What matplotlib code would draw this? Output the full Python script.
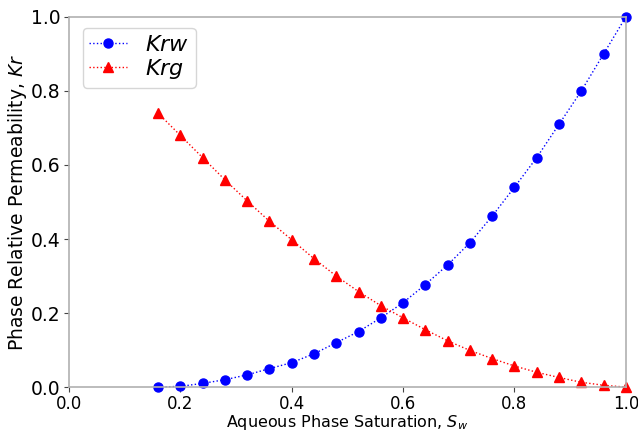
import numpy as np
import matplotlib
matplotlib.use('Agg')
import matplotlib.pyplot as plt

# saturation points
sw = [0.16, 0.20, 0.24, 0.28, 0.32, 0.36, 0.40, 0.44, 0.48, 0.52, 0.56,
      0.60, 0.64, 0.68, 0.72, 0.76, 0.80, 0.84, 0.88, 0.92, 0.96, 1.00]

krw = [0.0, 0.002, 0.01, 0.02, 0.033, 0.05, 0.066, 0.09, 0.12, 0.15, 0.187,
       0.228, 0.277, 0.33, 0.39, 0.462, 0.54, 0.62, 0.71, 0.80, 0.90, 1.0]

krg = [0.74, 0.68, 0.62, 0.56, 0.503, 0.448, 0.398, 0.347, 0.30, 0.258, 0.22,
       0.187, 0.155, 0.125, 0.099, 0.077, 0.057, 0.04, 0.026, 0.013, 0.005, 0.0]

fig, ax = plt.subplots(figsize=(6.38, 4.33), dpi=100)
fig.subplots_adjust(left=0.108, right=0.981, top=0.961, bottom=0.106)

ax.plot(sw, krw, 'b:', lw=1, marker='o', markersize=6.5, label=r'$Krw$', clip_on=False)
ax.plot(sw, krg, 'r:', lw=1, marker='^', markersize=6.5, label=r'$Krg$', clip_on=False)

ax.set_xlim(0, 1)
ax.set_ylim(0, 1)
ax.set_xlabel(r'Aqueous Phase Saturation, $S_w$', fontsize=11.5, labelpad=0)
ax.set_ylabel(r'Phase Relative Permeability, $Kr$', fontsize=13.5, labelpad=1)
ax.tick_params(colors='#444444', labelcolor='black')
ax.tick_params(axis='x', labelsize=12, pad=2.5)
ax.tick_params(axis='y', labelsize=13.5, pad=2.5)
for s in ax.spines.values():
    s.set_color('#b0b0b0')
    s.set_linewidth(1.2)
ax.legend(loc='upper left', fontsize=16, handlelength=1.7, labelspacing=0.1,
          borderpad=0.3, bbox_to_anchor=(0.005, 1.0))

plt.savefig('out.png', dpi=100)
